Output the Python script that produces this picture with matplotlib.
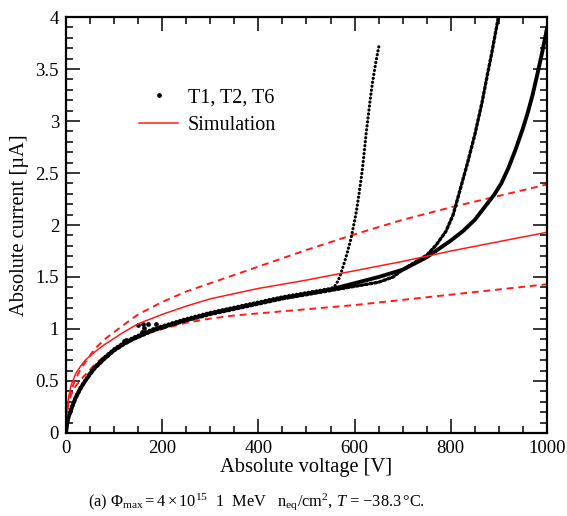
"""I-V curves of irradiated sensors T1, T2, T6 against the simulated band."""

import matplotlib

matplotlib.use("Agg")
import matplotlib.pyplot as plt
from matplotlib.lines import Line2D
from matplotlib.ticker import FuncFormatter, MultipleLocator

t6_voltage = [0, 2, 5, 10, 15, 20, 30, 40, 50, 60, 80, 100, 120, 140, 160, 180,
              200, 250, 300, 350, 400, 450, 500, 550, 600, 650, 700, 725, 750,
              775, 800, 825, 850, 870, 890, 905, 920, 935, 950, 960, 970, 980,
              990, 1000]
t6_current = [0.0, 0.08, 0.15, 0.22, 0.28, 0.34, 0.43, 0.50, 0.57, 0.63, 0.72,
              0.80, 0.86, 0.91, 0.95, 0.99, 1.02, 1.09, 1.15, 1.20, 1.25, 1.30,
              1.34, 1.38, 1.44, 1.50, 1.57, 1.63, 1.69, 1.77, 1.85, 1.94, 2.05,
              2.17, 2.29, 2.40, 2.55, 2.73, 2.93, 3.08, 3.25, 3.45, 3.66, 3.89]

t2_voltage = [0, 2, 5, 10, 15, 20, 30, 40, 50, 60, 80, 100, 120, 140, 160, 180,
              200, 250, 300, 350, 400, 450, 500, 550, 600, 650, 680, 700, 725,
              750, 770, 790, 805, 820, 835, 850, 865, 875, 885, 893, 899]
t2_current = [0.0, 0.07, 0.14, 0.21, 0.27, 0.33, 0.42, 0.50, 0.56, 0.62, 0.71,
              0.79, 0.85, 0.90, 0.94, 0.98, 1.01, 1.08, 1.14, 1.19, 1.24, 1.29,
              1.33, 1.37, 1.41, 1.45, 1.50, 1.57, 1.64, 1.71, 1.81, 1.94, 2.10,
              2.35, 2.60, 2.87, 3.18, 3.42, 3.65, 3.85, 4.00]

t1_voltage = [0, 2, 5, 10, 15, 20, 30, 40, 50, 60, 80, 100, 120, 140, 160, 180,
              200, 250, 300, 350, 400, 450, 500, 550, 556, 560, 564, 568, 572,
              576, 580, 584, 588, 592, 596, 600, 604, 608, 612, 616, 620, 624,
              628, 632, 636, 640, 644, 648, 651]
t1_current = [0.0, 0.09, 0.16, 0.23, 0.29, 0.35, 0.44, 0.51, 0.58, 0.64, 0.73,
              0.81, 0.87, 0.92, 0.96, 1.00, 1.03, 1.10, 1.16, 1.21, 1.26, 1.31,
              1.35, 1.39, 1.40, 1.42, 1.45, 1.49, 1.54, 1.60, 1.66, 1.72, 1.79,
              1.86, 1.95, 2.04, 2.14, 2.26, 2.39, 2.53, 2.70, 2.88, 3.03, 3.19,
              3.33, 3.45, 3.56, 3.66, 3.73]

# a few scattered readings around 120-190 V
stray_voltage = [120, 124, 150, 157, 161, 163, 171, 188]
stray_current = [0.88, 0.89, 1.04, 0.97, 1.05, 1.01, 1.05, 1.05]

# Simulated current: nominal and the two bounding variations.
sim_voltage = [0, 1, 2, 5, 10, 20, 30, 40, 60, 80, 100, 120, 150, 200, 250,
               300, 350, 400, 500, 600, 700, 800, 900, 1000]
sim_nominal = [0.0, 0.14, 0.21, 0.33, 0.45, 0.57, 0.64, 0.70, 0.78, 0.85, 0.91,
               0.97, 1.05, 1.14, 1.22, 1.29, 1.34, 1.39, 1.47, 1.56, 1.65, 1.75,
               1.84, 1.93]
sim_upper = [0.0, 0.13, 0.19, 0.30, 0.40, 0.52, 0.61, 0.68, 0.81, 0.90, 0.97,
             1.04, 1.14, 1.26, 1.36, 1.44, 1.52, 1.60, 1.76, 1.91, 2.05, 2.17,
             2.28, 2.39]
sim_lower = [0.0, 0.12, 0.18, 0.28, 0.36, 0.45, 0.51, 0.56, 0.66, 0.74, 0.80,
             0.86, 0.93, 1.00, 1.06, 1.10, 1.13, 1.15, 1.19, 1.23, 1.28, 1.33,
             1.38, 1.43]

CAPTION = (r"(a) $\mathit{Φ}_{\mathrm{max}} = 4 \times 10^{15}$  1  MeV   "
           r"$\mathrm{n_{eq}/cm^2}$, $\mathit{T}$ = $-$38.3$\,$°C.")


def main():
    plt.rcParams["font.family"] = ["Liberation Serif", "DejaVu Serif"]
    plt.rcParams["mathtext.fontset"] = "custom"
    plt.rcParams["mathtext.rm"] = "Liberation Serif"
    plt.rcParams["mathtext.it"] = "Liberation Serif:italic"
    plt.rcParams["mathtext.bf"] = "Liberation Serif:bold"

    fig = plt.figure(figsize=(5.67, 5.16), dpi=100)
    ax = fig.add_axes([0.1164, 0.1609, 0.8483, 0.8061])

    red = "#ff1a1a"
    ax.plot(sim_voltage, sim_upper, color=red, lw=1.4, ls=(0, (3.5, 2.5)))
    ax.plot(sim_voltage, sim_lower, color=red, lw=1.4, ls=(0, (3.5, 2.5)))

    # measured series drawn through their readings
    ax.plot(t6_voltage, t6_current, color="k", lw=2.8, solid_capstyle="round")
    ax.plot(t2_voltage, t2_current, color="k", lw=2.4,
            ls=(0, (0.6, 0.8)), dash_capstyle="round")
    ax.plot(t1_voltage, t1_current, color="k", lw=2.3,
            ls=(0, (0.05, 1.2)), dash_capstyle="round")
    ax.plot(stray_voltage, stray_current, "o", color="k", ms=2.4)

    ax.plot(sim_voltage, sim_nominal, color=red, lw=1.1)

    ax.set_xlim(0, 1000)
    ax.set_ylim(0, 4)
    ax.xaxis.set_major_locator(MultipleLocator(200))
    ax.xaxis.set_minor_locator(MultipleLocator(50))
    ax.yaxis.set_major_locator(MultipleLocator(0.5))
    ax.yaxis.set_minor_locator(MultipleLocator(0.1))
    ax.yaxis.set_major_formatter(FuncFormatter(lambda v, _: f"{v:g}"))
    ax.tick_params(which="both", direction="in", top=True, right=True,
                   width=1.1, labelsize=13.5, pad=5)
    ax.tick_params(which="major", length=10)
    ax.tick_params(which="minor", length=5)
    for spine in ax.spines.values():
        spine.set_linewidth(1.6)

    ax.set_xlabel("Absolute voltage [V]", fontsize=14.7, labelpad=1)
    ax.set_ylabel("Absolute current [µA]", fontsize=14.7, labelpad=5)

    handles = [
        Line2D([], [], ls="none", marker="o", ms=2.4, color="k"),
        Line2D([], [], color=red, lw=1.1),
    ]
    ax.legend(handles, ["T1, T2, T6", "Simulation"], loc="upper left",
              bbox_to_anchor=(0.115, 0.872), frameon=False, fontsize=14.5,
              handlelength=1.9, handletextpad=0.5, labelspacing=0.4)

    fig.text(0.452, 0.021, CAPTION, ha="center", va="baseline", fontsize=11.8)
    fig.savefig("out.png", dpi=100)
    plt.close(fig)


if __name__ == "__main__":
    main()
